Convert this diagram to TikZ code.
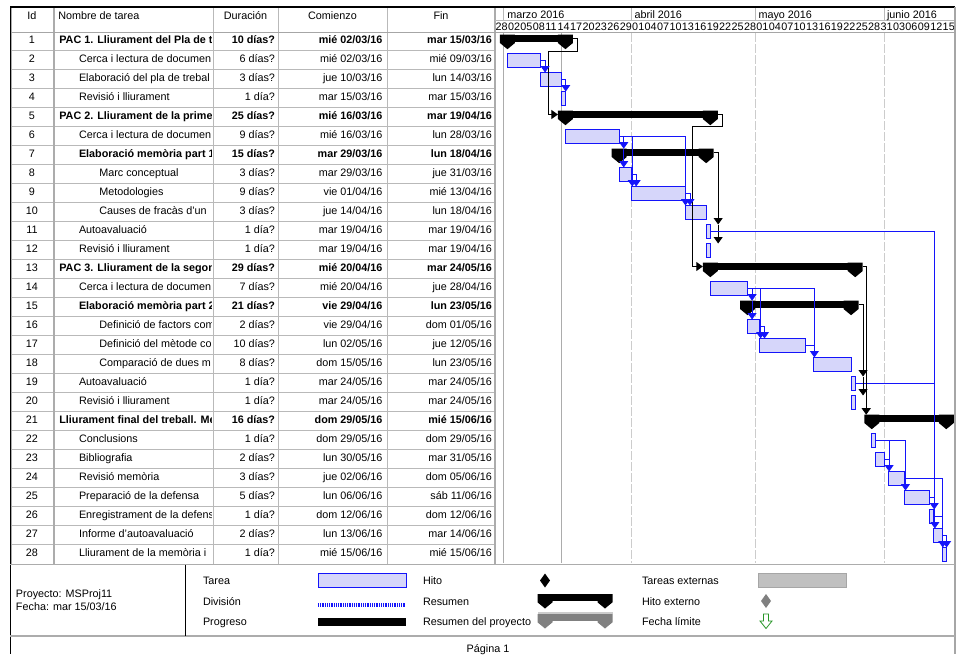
\documentclass[tikz,border=0pt]{standalone}
\usepackage{fontspec}
\setmainfont{Liberation Sans}
\usetikzlibrary{arrows.meta,calc}

\definecolor{barblue}{RGB}{20,20,250}
\definecolor{barfill}{RGB}{214,214,250}
\definecolor{extgray}{RGB}{192,192,192}
\definecolor{sumgray}{RGB}{128,128,128}
\definecolor{deadgreen}{RGB}{40,150,40}

\tikzset{
  x=1pt, y=-1pt,
  every node/.style={font=\fontsize{10.8}{12}\selectfont, inner sep=0pt, outer sep=0pt},
  taskbar/.style={draw=barblue, fill=barfill, line width=1pt, minimum height=14pt},
  sumbar/.style={fill=black, minimum height=7.3pt},
  blink/.style={draw=barblue, line width=0.9pt},
  klink/.style={draw=black, line width=0.9pt},
  lnkarrow/.style={-{Triangle[width=9pt,length=6.5pt]}},
  tgrid/.style={draw=gray!55, line width=0.8pt},
  tframe/.style={draw=gray!65, line width=1.6pt},
  statusline/.style={draw=gray!65, line width=1.3pt},
  monthline/.style={draw=gray!40, line width=1pt, dash pattern=on 9pt off 2pt},
}

% task bar: name, row, first day, day after last (days counted from 1 March 2016)
\newcommand\gtask[4]{%
  \pgfmathsetmacro\gxa{503.3+4.14*#3}%
  \pgfmathsetmacro\gwd{4.14*(#4-#3)}%
  \pgfmathsetmacro\gyc{41.5+19*(#2-1)}%
  \node[taskbar,minimum width=\gwd pt,anchor=west] (#1) at (\gxa,\gyc) {};%
}
% end cap of a summary bar: x, top, colour
\newcommand\gcapfill[3]{\fill[#3] (#1-7.5,#2) -- (#1+7.5,#2) -- (#1+7.5,#2+8.3) -- (#1,#2+14.5) -- (#1-7.5,#2+8.3) -- cycle;}
% summary bar: name, row, first day, day after last
\newcommand\gsum[4]{%
  \pgfmathsetmacro\gxa{503.3+4.14*#3}%
  \pgfmathsetmacro\gxb{503.3+4.14*#4}%
  \pgfmathsetmacro\gwd{\gxb-\gxa}%
  \pgfmathsetmacro\gtp{40+19*(#2-1)-5.3}%
  \node[sumbar,minimum width=\gwd pt,anchor=north west] (#1) at (\gxa,\gtp) {};%
  \gcapfill{\gxa}{\gtp}{black}%
  \gcapfill{\gxb}{\gtp}{black}%
  \coordinate (#1-L) at (\gxa-7.5,\gtp+3.8);%
  \coordinate (#1-R) at (\gxb+7.5,\gtp+3.8);%
}
% table row: id, name indent, weight, name, duration, start, finish
\newcommand\trow[7]{%
  \pgfmathsetmacro\gyb{43.9+19*(#1-1)}%
  \node[anchor=base] (id#1) at (32,\gyb) {#1};%
  \begin{scope}
    \clip (55,\gyb-15) rectangle (211.5,\gyb+6);
    \node[anchor=base west] (nm#1) at (#2,\gyb) {#3#4};
  \end{scope}
  \node[anchor=base east] (du#1) at (275,\gyb) {#3#5};%
  \node[anchor=base east] (st#1) at (382.5,\gyb) {#3#6};%
  \node[anchor=base east] (fi#1) at (492,\gyb) {#3#7};%
}

\begin{document}
\begin{tikzpicture}
\useasboundingbox (0,0) rectangle (962,654);

% ---------- table grid ----------
\foreach \r in {1,...,27} \draw[tgrid] (10,{50+19*(\r-1)}) -- (495,{50+19*(\r-1)});
\foreach \cx in {213,278,387} \draw[tgrid] (\cx,7) -- (\cx,564);
\draw[tframe] (54,7) -- (54,564);
\draw[tframe] (495,7) -- (495,564);
\draw[tframe] (11,7) -- (11,564);
\draw[draw=gray!70, line width=1.6pt] (10,32.5) -- (955,32.5);

% ---------- time scale ----------
\draw[tgrid] (495,20.7) -- (955,20.7);
\foreach \mx in {503.3,631.6,755.7,884.3} \draw[tgrid] (\mx,7) -- (\mx,20.7);
\node[anchor=base west] (mMar) at (507.3,18.8) {marzo 2016};
\node[anchor=base west] (mApr) at (634.5,18.8) {abril 2016};
\node[anchor=base west] (mMay) at (758.5,18.8) {mayo 2016};
\node[anchor=base west] (mJun) at (887,18.8) {junio 2016};
\foreach \lab [count=\k from 0] in {28,02,05,08,11,14,17,20,23,26,29,01,04,07,10,13,16,19,22,25,28,01,04,07,10,13,16,19,22,25,28,31,03,06,09,12,15}
  \node[anchor=base west] (dl\k) at ({503.3+4.14*(3*\k-2)+0.6},30.7) {\lab};

% chart grid lines
\draw[statusline] (503.3,33) -- (503.3,563);
\draw[statusline] (561.3,33) -- (561.3,563);
\foreach \mx in {631.6,755.7,884.3} \draw[monthline] (\mx,33) -- (\mx,563);

% ---------- column headings ----------
\node[anchor=base] (hId) at (32,19.3) {Id};
\node[anchor=base west] (hName) at (58.3,19.3) {Nombre de tarea};
\node[anchor=base] (hDur) at (245.5,19.3) {Duración};
\node[anchor=base] (hStart) at (332.5,19.3) {Comienzo};
\node[anchor=base] (hEnd) at (441,19.3) {Fin};

% ---------- task rows ----------
\trow{1}{59.3}{\bfseries}{PAC 1. Lliurament del Pla de t}{10 días?}{mié 02/03/16}{mar 15/03/16}
\trow{2}{79}{}{Cerca i lectura de documen}{6 días?}{mié 02/03/16}{mié 09/03/16}
\trow{3}{79}{}{Elaboració del pla de trebal}{3 días?}{jue 10/03/16}{lun 14/03/16}
\trow{4}{79}{}{Revisió i lliurament}{1 día?}{mar 15/03/16}{mar 15/03/16}
\trow{5}{59.3}{\bfseries}{PAC 2. Lliurament de la prime}{25 días?}{mié 16/03/16}{mar 19/04/16}
\trow{6}{79}{}{Cerca i lectura de documen}{9 días?}{mié 16/03/16}{lun 28/03/16}
\trow{7}{79}{\bfseries}{Elaboració memòria part 1}{15 días?}{mar 29/03/16}{lun 18/04/16}
\trow{8}{99.3}{}{Marc conceptual}{3 días?}{mar 29/03/16}{jue 31/03/16}
\trow{9}{99.3}{}{Metodologies}{9 días?}{vie 01/04/16}{mié 13/04/16}
\trow{10}{99.3}{}{Causes de fracàs d'un}{3 días?}{jue 14/04/16}{lun 18/04/16}
\trow{11}{79}{}{Autoavaluació}{1 día?}{mar 19/04/16}{mar 19/04/16}
\trow{12}{79}{}{Revisió i lliurament}{1 día?}{mar 19/04/16}{mar 19/04/16}
\trow{13}{59.3}{\bfseries}{PAC 3. Lliurament de la segon}{29 días?}{mié 20/04/16}{mar 24/05/16}
\trow{14}{79}{}{Cerca i lectura de documen}{7 días?}{mié 20/04/16}{jue 28/04/16}
\trow{15}{79}{\bfseries}{Elaboració memòria part 2}{21 días?}{vie 29/04/16}{lun 23/05/16}
\trow{16}{99.3}{}{Definició de factors com}{2 días?}{vie 29/04/16}{dom 01/05/16}
\trow{17}{99.3}{}{Definició del mètode co}{10 días?}{lun 02/05/16}{jue 12/05/16}
\trow{18}{99.3}{}{Comparació de dues m}{8 días?}{dom 15/05/16}{lun 23/05/16}
\trow{19}{79}{}{Autoavaluació}{1 día?}{mar 24/05/16}{mar 24/05/16}
\trow{20}{79}{}{Revisió i lliurament}{1 día?}{mar 24/05/16}{mar 24/05/16}
\trow{21}{59.3}{\bfseries}{Lliurament final del treball. Me}{16 días?}{dom 29/05/16}{mié 15/06/16}
\trow{22}{79}{}{Conclusions}{1 día?}{dom 29/05/16}{dom 29/05/16}
\trow{23}{79}{}{Bibliografia}{2 días?}{lun 30/05/16}{mar 31/05/16}
\trow{24}{79}{}{Revisió memòria}{3 días?}{jue 02/06/16}{dom 05/06/16}
\trow{25}{79}{}{Preparació de la defensa}{5 días?}{lun 06/06/16}{sáb 11/06/16}
\trow{26}{79}{}{Enregistrament de la defens}{1 día?}{dom 12/06/16}{dom 12/06/16}
\trow{27}{79}{}{Informe d'autoavaluació}{2 días?}{lun 13/06/16}{mar 14/06/16}
\trow{28}{79}{}{Lliurament de la memòria i}{1 día?}{mié 15/06/16}{mié 15/06/16}

% ---------- bars ----------
\gsum{s1}{1}{1}{15}
\gtask{t2}{2}{1}{9}
\gtask{t3}{3}{9}{14}
\gtask{t4}{4}{14}{15}
\gsum{s5}{5}{15}{50}
\gtask{t6}{6}{15}{28}
\gsum{s7}{7}{28}{49}
\gtask{t8}{8}{28}{31}
\gtask{t9}{9}{31}{44}
\gtask{t10}{10}{44}{49}
\gtask{t11}{11}{49}{50}
\gtask{t12}{12}{49}{50}
\gsum{s13}{13}{50}{85}
\gtask{t14}{14}{50}{59}
\gsum{s15}{15}{59}{84}
\gtask{t16}{16}{59}{62}
\gtask{t17}{17}{62}{73}
\gtask{t18}{18}{75}{84}
\gtask{t19}{19}{84}{85}
\gtask{t20}{20}{84}{85}
\gsum{s21}{21}{89}{107}
\gtask{t22}{22}{89}{90}
\gtask{t23}{23}{90}{92}
\gtask{t24}{24}{93}{97}
\gtask{t25}{25}{97}{103}
\gtask{t26}{26}{103}{104}
\gtask{t27}{27}{104}{106}
\gtask{t28}{28}{106}{107}

% ---------- dependency links ----------
\draw[klink,lnkarrow] (s1-R) -- ++(4.5,0) -- ++(0,12.5) -| ($(s5-L)+(-9.5,0)$) -- (s5-L);
\draw[blink,lnkarrow] (t2.east) -| ($(t2.east |- t3.north)+(4.5,0)$);
\draw[blink,lnkarrow] (t3.east) -| ($(t3.east |- t4.north)+(4.5,0)$);
\draw[klink,lnkarrow] (s5-R) -- ++(4.5,0) -- ++(0,11.5) -| ($(s13-L)+(-10,0)$) -- (s13-L);

\coordinate (v6) at ($(t6.east)+(4.5,0)$);
\draw[blink,lnkarrow] (t6.east) -| (v6 |- s7.north);
\draw[blink,lnkarrow] (v6 |- s7.north) -- (v6 |- t8.north);
\draw[blink,lnkarrow] (t6.east) -| ($(t9.north west)+(0.6,0)$);
\draw[blink,lnkarrow] (t6.east) -| (t10.north west);
\draw[blink,lnkarrow] (t8.east) -| ($(t8.east |- t9.north)+(4.5,0)$);
\draw[blink,lnkarrow] (t9.east) -| ($(t9.east |- t10.north)+(4.5,0)$);

\coordinate (v7) at ($(s7-R)+(4.5,0)$);
\draw[klink,lnkarrow] (s7-R) -| (v7 |- t11.north);
\draw[klink,lnkarrow] (v7 |- t11.north) -- (v7 |- t12.north);

\draw[blink,lnkarrow] (t11.east) -| ($(t27.north west)+(1,0)$);
\draw[blink] (t19.east) -- ($(t19.east -| t27.north west)+(1,0)$);

\coordinate (v13) at ($(s13-R)+(3.5,0)$);
\draw[klink,lnkarrow] (s13-R) -| (v13 |- s21.north);
\coordinate (v15) at ($(s15-R)+(4.5,0)$);
\draw[klink,lnkarrow] (s15-R) -| (v15 |- t19.north);
\draw[klink,lnkarrow] (v15 |- t19.north) -- (v15 |- t20.north);

\coordinate (v14) at ($(t14.east)+(4.5,0)$);
\draw[blink,lnkarrow] (t14.east) -| (v14 |- s15.north);
\draw[blink,lnkarrow] (v14 |- s15.north) -- (v14 |- t16.north);
\draw[blink,lnkarrow] (t14.east) -| ($(t17.north west)+(0.6,0)$);
\draw[blink,lnkarrow] (t14.east) -| ($(t18.north west)+(0.6,0)$);
\draw[blink,lnkarrow] (t16.east) -| ($(t16.east |- t17.north)+(4.5,0)$);
\draw[blink] (t17.east) -- ($(t17.east -| t18.north west)+(0.6,0)$);

\draw[blink,lnkarrow] (t22.east) -| ($(t24.north west)+(0.8,0)$);
\draw[blink] (t23.east) -- ($(t23.east -| t24.north west)+(0.8,0)$);
\draw[blink,lnkarrow] (t22.east) -| ($(t25.north west)+(0.6,0)$);
\draw[blink,lnkarrow] (t24.east) -| ($(t28.north west)+(0.6,0)$);
\draw[blink,lnkarrow] (t25.east) -| ($(t25.east |- t26.north)+(4.5,0)$);
\draw[blink] (t26.east) -- ($(t26.east -| t28.north west)+(0.6,0)$);
\draw[blink,lnkarrow] (t27.east) -| ($(t27.east |- t28.north)+(4.5,0)$);

% ---------- outer frame ----------
\draw[line width=1.2pt] (10,7) -- (955,7);
\draw[line width=1pt] (10,7) -- (10,654);
\draw[draw=gray!70, line width=1.2pt] (955,7) -- (955,654);
\draw[tframe] (10,564.5) -- (955,564.5);
\draw[tframe] (10,636) -- (955,636);
\draw[line width=0.8pt] (185,564.5) -- (185,636);

% ---------- legend ----------
\node[anchor=base west] (lgProj) at (16,597.2) {Proyecto: MSProj11};
\node[anchor=base west] (lgDate) at (16,610) {Fecha: mar 15/03/16};

\node[anchor=base west] (lgA1) at (203,584.9) {Tarea};
\node[anchor=base west] (lgA2) at (203,605.5) {División};
\node[anchor=base west] (lgA3) at (203,625.5) {Progreso};
\node[taskbar, minimum width=88pt, anchor=west] (lgTask) at (318,580) {};
\coordinate (lgSplitA) at (318,605);
\coordinate (lgSplitB) at (406,605);
\draw[barblue, line width=4pt, dash pattern=on 1pt off 0.8pt] (lgSplitA) -- (lgSplitB);
\node[fill=black, minimum width=88pt, minimum height=8pt, anchor=west] (lgProg) at (318,621.5) {};

\node[anchor=base west] (lgB1) at (423,584.9) {Hito};
\node[anchor=base west] (lgB2) at (423,605.5) {Resumen};
\node[anchor=base west] (lgB3) at (423,625.5) {Resumen del proyecto};
\fill (545,573.5) -- (550,580.5) -- (545,587.5) -- (540,580.5) -- cycle;
\fill (545,594) rectangle (605,601.3);
\gcapfill{545}{594}{black}
\gcapfill{605}{594}{black}
\fill[sumgray] (545,614) rectangle (605,621.3);
\gcapfill{545}{614}{sumgray}
\gcapfill{605}{614}{sumgray}
\fill[gray!40] (537.5,612.3) rectangle (612.5,614.3);

\node[anchor=base west] (lgC1) at (642,584.9) {Tareas externas};
\node[anchor=base west] (lgC2) at (642,605.5) {Hito externo};
\node[anchor=base west] (lgC3) at (642,625.5) {Fecha límite};
\node[draw=gray!70, fill=extgray, line width=0.8pt, minimum width=88pt, minimum height=14pt, anchor=west] (lgExt) at (758,580) {};
\fill[sumgray] (766,594) -- (771,601) -- (766,608) -- (761,601) -- cycle;
\draw[deadgreen, line width=0.8pt, fill=white] (763.5,614) -- (768.5,614) -- (768.5,621) -- (772,621) -- (766,628.5) -- (760,621) -- (763.5,621) -- cycle;

\node[anchor=base] (pageNo) at (488,652) {Página 1};
\end{tikzpicture}
\end{document}
